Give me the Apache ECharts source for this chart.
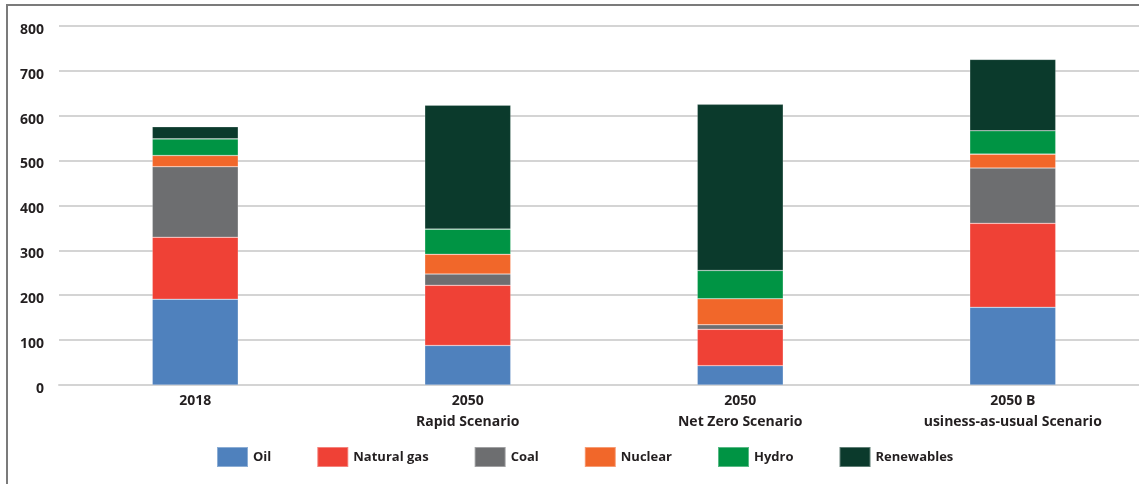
<!DOCTYPE html>
<html>
<head>
<meta charset="utf-8">
<style>
html,body{margin:0;padding:0;background:#fff;overflow:hidden;}
#c{width:1150px;height:484px;}
</style>
<script src="https://cdn.jsdelivr.net/npm/echarts@6/dist/echarts.min.js"></script>
</head>
<body>
<div id="c"></div>
<script>
const categories = ['2018', '2050\nRapid Scenario', '2050\nNet Zero Scenario', '2050 B\nusiness-as-usual Scenario'];
const oil        = [191, 88, 43, 173];
const naturalGas = [138, 134, 81, 187];
const coal       = [157, 25, 10, 123];
const nuclear    = [25, 44, 58, 31];
const hydro      = [37, 56, 63, 52];
const renewables = [27, 276, 370, 159];
const yTicks = [0, 100, 200, 300, 400, 500, 600, 700, 800];

const seriesDefs = [
  ['Oil', oil, '#4f81bd'],
  ['Natural gas', naturalGas, '#ef4136'],
  ['Coal', coal, '#6d6e70'],
  ['Nuclear', nuclear, '#f1672a'],
  ['Hydro', hydro, '#009444'],
  ['Renewables', renewables, '#0b3a2c']
];

const chart = echarts.init(document.getElementById('c'));
chart.setOption({
  animation: false,
  textStyle: { fontFamily: 'Open Sans' },
  graphic: [{
    type: 'rect', z: 100, silent: true,
    shape: { x: 7, y: 5, width: 1300, height: 700 },
    style: { fill: 'none', stroke: '#7b7b7b', lineWidth: 2 }
  }],
  grid: { left: 59, right: 1, top: 25.7, bottom: 99 },
  legend: {
    left: 216, top: 446, padding: 0,
    itemWidth: 31, itemHeight: 20, itemGap: 45,
    icon: 'rect',
    textStyle: { fontSize: 13, fontWeight: 'bold', color: '#231f20' },
    data: seriesDefs.map(s => s[0])
  },
  xAxis: {
    type: 'category',
    data: categories,
    axisLine: { show: true, lineStyle: { color: '#d4d4d4', width: 2 } },
    axisTick: { show: false },
    axisLabel: { margin: 6, fontSize: 14, fontWeight: 'bold', color: '#231f20', lineHeight: 21 }
  },
  yAxis: {
    type: 'value',
    min: yTicks[0], max: yTicks[yTicks.length - 1], interval: 100,
    axisLine: { show: false },
    axisTick: { show: false },
    splitLine: { lineStyle: { color: '#d4d4d4', width: 2 } },
    axisLabel: { margin: 15, fontSize: 14, fontWeight: 'bold', color: '#231f20', verticalAlign: 'top', lineHeight: 8 }
  },
  series: seriesDefs.map(s => ({
    name: s[0], type: 'bar', stack: 'total', barWidth: 86,
    data: s[1],
    itemStyle: { color: s[2], borderColor: 'rgba(255,255,255,0.35)', borderWidth: 0.6 }
  }))
});
</script>
</body>
</html>
